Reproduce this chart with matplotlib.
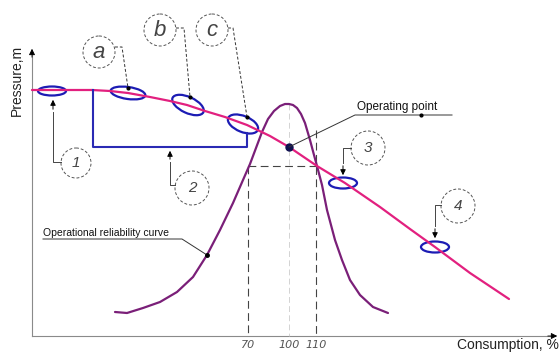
import numpy as np
import matplotlib.pyplot as plt
from matplotlib.patches import Ellipse, Circle

plt.rcParams['font.family'] = ['Liberation Sans', 'DejaVu Sans']

# schematic drawn in picture units (x right, y down)
pressure_x = [32, 60, 92, 110, 128, 150, 170, 187, 205, 225, 247, 270, 289, 317, 345, 380, 410, 435, 470, 509]
pressure_y = [90, 90, 90, 91, 93, 97, 101, 105, 111, 117, 125, 136, 147, 166, 183, 207, 229, 247, 273, 299]

reliab_x = [115, 127, 143, 160, 177, 193, 207, 220, 233, 243, 250, 256, 262, 268, 274, 280, 285, 289,
            293, 297, 301, 305, 310, 314, 317, 322, 327, 335, 342, 350, 360, 373, 388]
reliab_y = [312, 313, 308, 302, 292, 277, 255, 230, 203, 180, 164, 148, 132, 119, 111, 106, 104, 104,
            105, 108, 114, 123, 140, 155, 166, 185, 210, 240, 260, 280, 295, 307, 313]

tick_pos = [248, 289, 316]
tick_labels = ['70', '100', '110']

# zones marked on the pressure curve
zone_x = [52, 128, 188, 243, 343, 435]
zone_y = [91, 93, 105, 124, 183, 247]
zone_w = [28, 35, 34, 32, 28, 28]
zone_h = [9, 12, 16, 16, 11, 11]
zone_ang = [0, 8, 25, 22, 0, 0]

op_x, op_y = 289, 147

fig = plt.figure(figsize=(5.6, 3.54), dpi=100)
ax = fig.add_axes([0, 0, 1, 1])
ax.set_xlim(0, 560)
ax.set_ylim(354, 0)
ax.axis('off')

# axes with arrows
ax.plot([32, 32], [336, 52], color='#8a8a8a', lw=0.8)
ax.plot([32, 555], [336, 336], color='#8a8a8a', lw=0.8)
ax.annotate('', xy=(32, 46), xytext=(32, 60),
            arrowprops=dict(arrowstyle='-|>', color='black', lw=0.6, mutation_scale=9))
ax.annotate('', xy=(560, 336), xytext=(545, 336),
            arrowprops=dict(arrowstyle='-|>', color='black', lw=0.6, mutation_scale=9))
ax.text(17, 80, 'Pressure,m', rotation=90, ha='center', va='center', fontsize=10, color='#222222')
ax.text(559, 345, 'Consumption, %', ha='right', va='center', fontsize=10, color='#222222')

for p, lab in zip(tick_pos, tick_labels):
    ax.text(p, 345, lab, ha='center', va='center', fontsize=8, style='italic', color='#555555',
            family='DejaVu Sans')

# guide lines
ax.plot([248, 248], [166, 336], color='#444444', lw=0.8, dashes=(7, 4))
ax.plot([316, 316], [130, 336], color='#444444', lw=0.8, dashes=(7, 4))
ax.plot([289, 289], [104, 336], color='#cccccc', lw=0.6, dashes=(7, 4))
ax.plot([248, 316], [166, 166], color='#444444', lw=0.8, dashes=(7, 4))

# curves
ax.plot(reliab_x, reliab_y, color='#7a1f78', lw=1.6, solid_capstyle='round', solid_joinstyle='round')
ax.plot(pressure_x, pressure_y, color='#e2207f', lw=1.6, solid_capstyle='round', solid_joinstyle='round')

# bracket 2
ax.plot([93, 93, 247, 247], [90, 147, 147, 133], color='#2a2ab4', lw=1.5)

for x, y, w, h, a in zip(zone_x, zone_y, zone_w, zone_h, zone_ang):
    ax.add_patch(Ellipse((x, y), w, h, angle=a, fill=False, edgecolor='#1c1cb4', lw=1.6))

ax.plot(op_x, op_y, 'o', color='#101050', ms=5)

# numbered callouts with arrows
def callout(cx, cy, r, text, path, tip, fs=11):
    ax.add_patch(Circle((cx, cy), r, fill=False, edgecolor='#555555', lw=0.7, ls=(0, (3, 2))))
    ax.text(cx, cy, text, ha='center', va='center', fontsize=fs, style='italic', color='#444444')
    px, py = zip(*path)
    ax.plot(px, py, color='#444444', lw=0.7)
    ax.annotate('', xy=tip, xytext=path[-1],
                arrowprops=dict(arrowstyle='-|>', color='black', lw=0.7, mutation_scale=8))

callout(76, 163, 15, '1', [(61, 162), (53, 162), (53, 112)], (53, 97))
callout(192, 188, 17, '2', [(175, 185), (170, 185), (170, 162)], (170, 148))
callout(368, 148, 17, '3', [(351, 148), (343, 148), (343, 163)], (343, 178))
callout(458, 206, 17, '4', [(441, 205), (435, 205), (435, 226)], (435, 241))

# lettered callouts
def letter(cx, cy, text, path):
    ax.add_patch(Circle((cx, cy), 16, fill=False, edgecolor='#555555', lw=0.7, ls=(0, (3, 2))))
    ax.text(cx, cy + 1, text, ha='center', va='center', fontsize=16, style='italic', color='#444444')
    px, py = zip(*path)
    ax.plot(px, py, color='#333333', lw=0.7, dashes=(3, 2))
    ax.plot(px[-1], py[-1], 'o', color='black', ms=2)

letter(99, 52, 'a', [(115, 47), (122, 47), (128, 88)])
letter(160, 30, 'b', [(176, 28), (184, 28), (190, 97)])
letter(212, 30, 'c', [(228, 28), (233, 28), (247, 117)])

# labels with leaders
ax.text(357, 107, 'Operating point', ha='left', va='center', fontsize=8.5, color='#111111')
ax.plot([452, 355, op_x], [115, 115, op_y], color='#333333', lw=0.7)
ax.plot(421, 115, 'o', color='black', ms=2)

ax.text(43, 233, 'Operational reliability curve', ha='left', va='center', fontsize=7.5, color='#111111')
ax.plot([43, 182, 207], [239, 239, 255], color='#333333', lw=0.7)
ax.plot(207, 255, 'o', color='black', ms=2.5)

fig.savefig('out.png', dpi=100)
